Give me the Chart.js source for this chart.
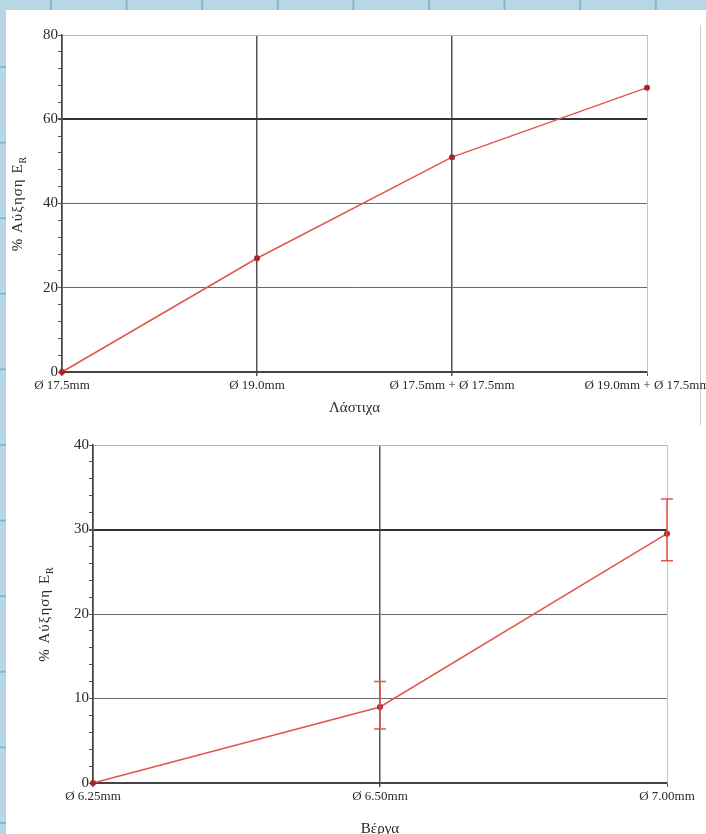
<!DOCTYPE html>
<html>
<head>
<meta charset="utf-8">
<script src="https://cdn.jsdelivr.net/npm/chart.js@4/dist/chart.umd.min.js"></script>
<style>
html,body{margin:0;padding:0;}
body{
	width:706px;height:834px;overflow:hidden;position:relative;
	background-color:#b7d7e3;
	background-image:linear-gradient(to right,#86b6cb 0,#86b6cb 2px,transparent 2px),
	                 linear-gradient(to bottom,#86b6cb 0,#86b6cb 2px,transparent 2px);
	background-size:75.6px 75.6px;
	background-position:50px 66px;
}
#panel{position:absolute;left:6px;top:10px;width:700px;height:824px;background:#fff;}
#edge{position:absolute;left:700px;top:25px;width:1px;height:400px;background:#cfcfcf;}
#wrap1{position:absolute;left:0;top:0;width:706px;height:425px;}
#wrap2{position:absolute;left:0;top:425px;width:706px;height:409px;}
</style>
</head>
<body>
<div id="panel"></div>
<div id="edge"></div>
<div id="wrap1"><canvas id="chart1"></canvas></div>
<div id="wrap2"><canvas id="chart2"></canvas></div>
<script>
// 위 그래프 (Λάστιχα)
var topLabels = ['Ø 17.5mm', 'Ø 19.0mm', 'Ø 17.5mm + Ø 17.5mm', 'Ø 19.0mm + Ø 17.5mm'];
var topValues = [0, 27, 51, 67.5];
var topTicks = [0, 20, 40, 60, 80];

// 아래 그래프 (Βέργα) + 오차막대
var bottomLabels = ['Ø 6.25mm', 'Ø 6.50mm', 'Ø 7.00mm'];
var bottomValues = [0, 9, 29.5];
var bottomErrLow = [null, 6.4, 26.3];
var bottomErrHigh = [null, 12.0, 33.6];
var bottomTicks = [0, 10, 20, 30, 40];

var fontFamily = '"Liberation Serif", "Times New Roman", serif';
var textColor = '#2a2a2a';
var lineColor = '#e2554a';
var dotColor = '#a8262b';

//y축 제목 (E 아래첨자 R)
var yTitlePlugin = {
	id: 'yTitle',
	afterDraw: function(chart, args, opts){
		var ctx = chart.ctx;
		var area = chart.chartArea;
		var main = '% Αύξηση E';
		ctx.save();
		ctx.translate(opts.x, (area.top + area.bottom) / 2);
		ctx.rotate(-Math.PI / 2);
		ctx.fillStyle = textColor;
		ctx.textBaseline = 'middle';
		ctx.letterSpacing = '1px';
		ctx.font = '15px ' + fontFamily;
		var w1 = ctx.measureText(main).width;
		ctx.font = '10px ' + fontFamily;
		var w2 = ctx.measureText('R').width;
		var start = -(w1 + w2) / 2;
		ctx.font = '15px ' + fontFamily;
		ctx.fillText(main, start, 0);
		ctx.font = '10px ' + fontFamily;
		ctx.fillText('R', start + w1, 5);
		ctx.restore();
	}
};

//오차막대
var errorBarPlugin = {
	id: 'errorBars',
	afterDatasetsDraw: function(chart, args, opts){
		if(!opts.low) return;
		var ctx = chart.ctx;
		var xs = chart.scales.x, ys = chart.scales.y;
		ctx.save();
		ctx.strokeStyle = lineColor;
		ctx.lineWidth = 1.5;
		for(var i = 0; i < opts.low.length; i++){
			if(opts.low[i] == null) continue;
			var x = xs.getPixelForValue(i);
			var yl = ys.getPixelForValue(opts.low[i]);
			var yh = ys.getPixelForValue(opts.high[i]);
			ctx.beginPath();
			ctx.moveTo(x, yl); ctx.lineTo(x, yh);
			ctx.moveTo(x - 6, yl); ctx.lineTo(x + 6, yl);
			ctx.moveTo(x - 6, yh); ctx.lineTo(x + 6, yh);
			ctx.stroke();
		}
		ctx.restore();
	}
};

function makeChart(id, labels, values, yTicks, minorStep, darkValue, box, title, titlePad, yTitleX, errLow, errHigh){
	var yMax = yTicks[yTicks.length - 1];
	var major = yTicks[1] - yTicks[0];
	var last = labels.length - 1;
	return new Chart(document.getElementById(id), {
		type: 'line',
		data: {
			labels: labels,
			datasets: [{
				data: values,
				borderColor: lineColor,
				borderWidth: 1.5,
				pointRadius: 3,
				pointBackgroundColor: dotColor,
				pointBorderColor: dotColor,
				pointBorderWidth: 0,
				tension: 0,
				clip: false
			}]
		},
		options: {
			responsive: true,
			maintainAspectRatio: false,
			animation: false,
			layout: {padding: {top: box.top, right: box.right, left: 0, bottom: 0}},
			plugins: {
				legend: {display: false},
				tooltip: {enabled: false},
				yTitle: {x: yTitleX},
				errorBars: {low: errLow, high: errHigh}
			},
			scales: {
				x: {
					offset: false,
					grid: {
						color: function(c){
							if(c.index == 0) return '#444';
							if(c.index == last) return '#c4c4c4';
							return '#555';
						},
						lineWidth: function(c){ return c.index == last ? 1 : 1.5; },
						tickLength: 4,
						tickColor: '#555'
					},
					border: {color: '#444', width: 1.5},
					ticks: {
						autoSkip: false, maxRotation: 0, minRotation: 0, padding: 2,
						color: textColor, font: {family: fontFamily, size: 13}
					},
					title: {
						display: true, text: title, color: textColor,
						font: {family: fontFamily, size: 15},
						padding: {top: 0, bottom: titlePad}
					},
					afterFit: function(s){
						s.height = box.xHeight;
						s.paddingLeft = 0;
						s.paddingRight = 0;
					}
				},
				y: {
					min: 0,
					max: yMax,
					grid: {
						color: function(c){
							var v = c.tick.value;
							if(v % major != 0) return 'rgba(0,0,0,0)';
							if(v == 0) return '#444';
							if(v == yMax) return '#b4b4b4';
							if(v == darkValue) return '#333';
							return '#6a6a6a';
						},
						lineWidth: function(c){ return c.tick.value == darkValue ? 2 : 1; },
						tickLength: 4,
						tickColor: '#555'
					},
					border: {color: '#444', width: 1.5},
					ticks: {
						autoSkip: false,
						stepSize: minorStep,
						padding: 0,
						color: textColor,
						font: {family: fontFamily, size: 15},
						callback: function(v){ return v % major == 0 ? v : ''; }
					},
					afterFit: function(s){ s.width = box.left; }
				}
			}
		},
		plugins: [yTitlePlugin, errorBarPlugin]
	});
}

makeChart('chart1', topLabels, topValues, topTicks, 4, 60,
	{top: 35, right: 59, left: 62, xHeight: 53}, 'Λάστιχα', 8, 18, null, null);

makeChart('chart2', bottomLabels, bottomValues, bottomTicks, 2, 30,
	{top: 20, right: 39, left: 93, xHeight: 51}, 'Βέργα', -4, 45, bottomErrLow, bottomErrHigh);
</script>
</body>
</html>
